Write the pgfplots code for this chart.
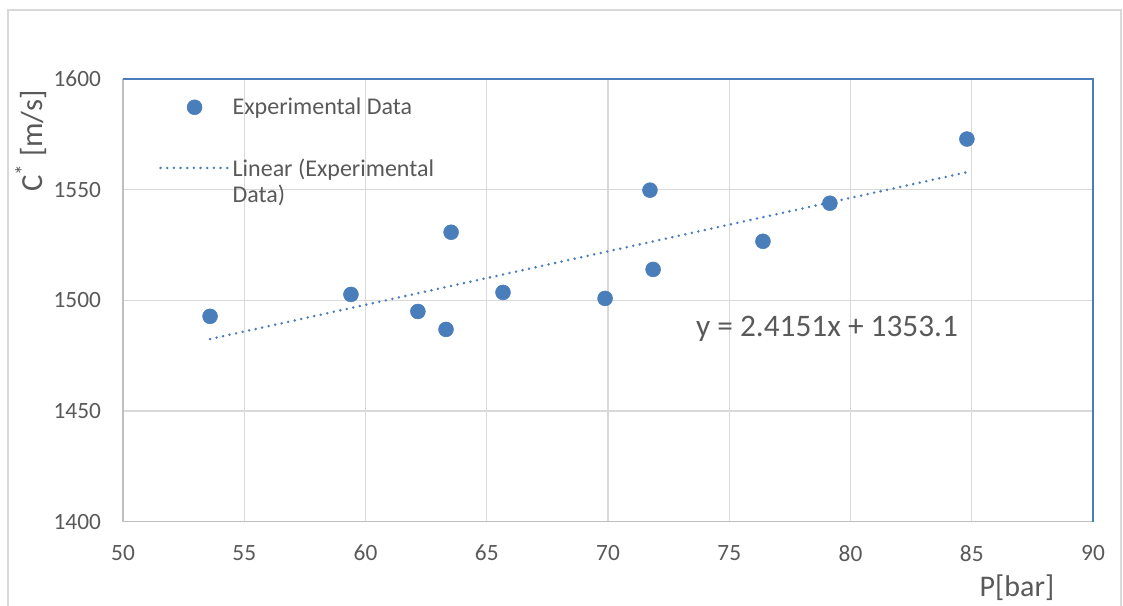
\documentclass[border=0pt]{standalone}
\usepackage{pgfplots}
\pgfplotsset{compat=1.18}
\usepackage{fontspec}
\setmainfont{Carlito}
\definecolor{ptblue}{HTML}{4A7EBB}
\definecolor{gridgray}{HTML}{D9D9D9}
\definecolor{framegray}{HTML}{BFBFBF}
\definecolor{txtgray}{HTML}{595959}
\pgfplotsset{
  markleg/.style={legend image code/.code={\draw[##1, mark repeat=2, mark phase=2] plot coordinates {(0pt,0pt)(25.5pt,0pt)(51pt,0pt)};}},
  lineleg/.style={legend image code/.code={\draw[##1] (0pt,0pt) -- (51pt,0pt);}},
}
\begin{document}
\begin{tikzpicture}
\useasboundingbox (-92.25pt,-63.2pt) rectangle (750pt,391.3pt);
\draw[gridgray, line width=1pt] (-86.25pt,-63.2pt) -- (-86.25pt,383.8pt) -- (748.5pt,383.8pt) -- (748.5pt,-63.2pt);
\begin{axis}[
  at={(0,0)}, anchor=south west,
  scale only axis, width=727.5pt, height=332pt,
  xmin=50, xmax=90, ymin=1400, ymax=1600,
  xtick={50,55,...,90}, ytick={1400,1450,...,1600},
  grid=major, major grid style={gridgray, line width=1.1pt},
  axis line style={draw=none},
  tick style={draw=none},
  ticklabel style={font=\fontsize{17.5}{19}\selectfont, text=txtgray},
  /pgf/number format/assume math mode=true,
  /pgf/number format/set thousands separator={},
  yticklabel={\pgfmathprintnumber{\tick}\hspace*{13pt}},
  xticklabel style={yshift=-14pt},
  xlabel={P[bar]}, ylabel={C\textsuperscript{*} [m/s]},
  xlabel style={at={(axis description cs:0.9216,-0.1498)}, anchor=center, font=\fontsize{22.5}{24}\selectfont, text=txtgray},
  ylabel style={at={(axis description cs:-0.095,0.86)}, anchor=center, font=\fontsize{23}{24}\selectfont, text=txtgray},
  legend style={draw=none, fill=none, at={(axis description cs:0.037,0.97)}, anchor=north west,
    font=\fontsize{18}{20}\selectfont, text=txtgray, row sep=26.75pt,
    cells={anchor=west}, inner xsep=0pt},
  clip=false,
]
\addplot[only marks, mark=*, mark size=5.6pt, color=ptblue, markleg]
  coordinates {
  (53.59,1492.8) (59.40,1502.7) (62.16,1495.0) (63.53,1530.8) (63.32,1486.9)
  (65.67,1503.6) (69.88,1500.9) (71.73,1549.8) (71.86,1514.0) (76.39,1526.7)
  (79.15,1543.9) (84.80,1572.9)
  };
\addlegendentry{Experimental Data}
\addplot[color=ptblue, line width=2.1pt, line cap=round, dash pattern=on 0pt off 5pt, lineleg]
  coordinates {(53.59,1482.53) (84.80,1557.90)};
\addlegendentry{\raisebox{0pt}[\height][0pt]{\begin{tabular}[t]{@{}l@{}}Linear (Experimental\\Data)\end{tabular}}}
\draw[framegray, line width=1pt] (rel axis cs:1,0) -- (rel axis cs:0,0) -- (rel axis cs:0,1);
\draw[ptblue, line width=1.2pt] (rel axis cs:0,1) -- (rel axis cs:1,1) -- (rel axis cs:1,0);
\node[anchor=center, text=txtgray, font=\fontsize{23.5}{25}\selectfont] at (axis description cs:0.7258,0.4353) {y = 2.4151x + 1353.1};
\end{axis}
\end{tikzpicture}
\end{document}
